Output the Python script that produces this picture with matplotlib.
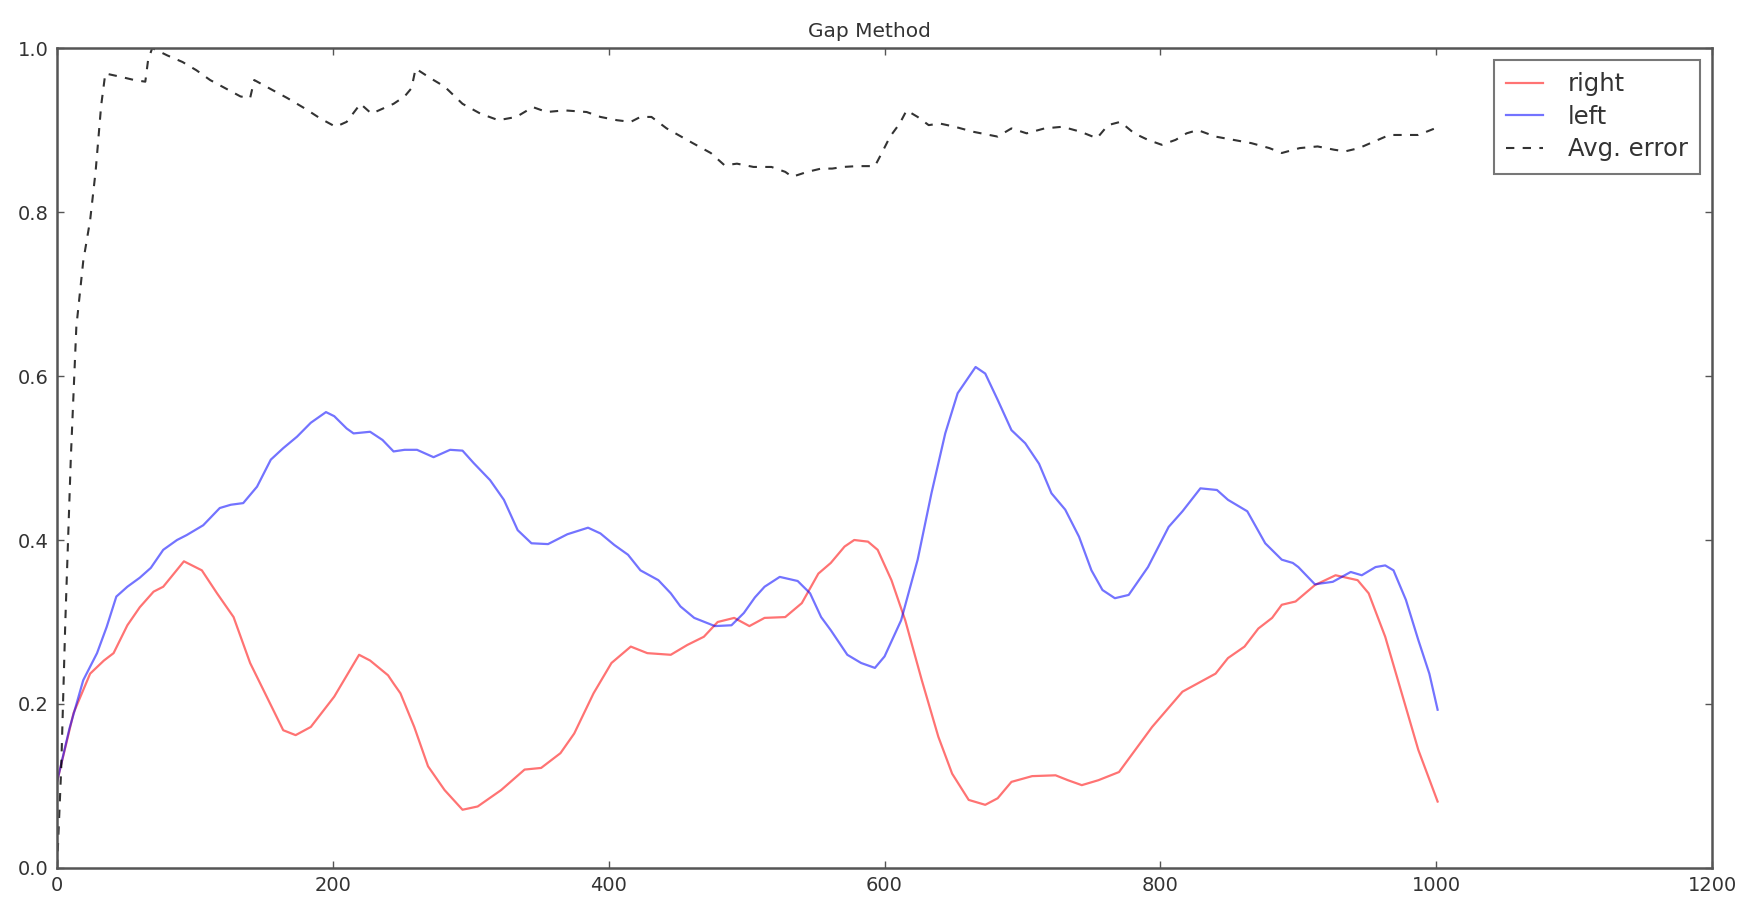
import numpy as np
import matplotlib
matplotlib.use("Agg")
import matplotlib.pyplot as plt

# right-side gap estimate
right_x = [0, 12, 24, 34, 41, 51, 60, 70, 77, 92, 105, 116, 128, 140, 152, 164, 173, 184,
           201, 219, 227, 240, 244, 249, 259, 269, 281, 294, 305, 322, 339, 351, 365, 375,
           389, 402, 416, 428, 445, 457, 469, 479, 491, 502, 513, 528, 540, 552, 561, 571,
           578, 588, 595, 605, 615, 627, 639, 649, 661, 673, 682, 692, 707, 724, 733, 743,
           755, 770, 794, 816, 840, 849, 861, 871, 881, 888, 898, 912, 927, 943, 951, 963,
           975, 987, 1001]
right_y = [0.105, 0.189, 0.237, 0.253, 0.262, 0.296, 0.318, 0.337, 0.343, 0.374, 0.363,
           0.335, 0.306, 0.250, 0.209, 0.168, 0.162, 0.172, 0.209, 0.260, 0.253, 0.235,
           0.225, 0.213, 0.172, 0.124, 0.095, 0.071, 0.075, 0.095, 0.120, 0.122, 0.140,
           0.164, 0.213, 0.250, 0.270, 0.262, 0.260, 0.272, 0.282, 0.300, 0.305, 0.295,
           0.305, 0.306, 0.323, 0.359, 0.372, 0.392, 0.400, 0.398, 0.388, 0.351, 0.302,
           0.229, 0.160, 0.115, 0.083, 0.077, 0.085, 0.105, 0.112, 0.113, 0.107, 0.101,
           0.107, 0.117, 0.172, 0.215, 0.237, 0.256, 0.270, 0.292, 0.305, 0.321, 0.325,
           0.345, 0.357, 0.351, 0.335, 0.282, 0.213, 0.144, 0.081]

# left-side gap estimate
left_x = [0, 9, 19, 29, 36, 43, 51, 60, 68, 77, 87, 94, 106, 118, 126, 135, 145, 155, 164,
          174, 184, 195, 201, 210, 215, 227, 236, 244, 252, 261, 273, 285, 294, 302, 314,
          324, 334, 344, 356, 370, 385, 394, 404, 414, 423, 436, 445, 452, 462, 477, 489,
          498, 506, 513, 524, 537, 546, 554, 561, 573, 583, 593, 600, 612, 624, 634, 644,
          653, 666, 673, 682, 692, 702, 712, 721, 731, 741, 750, 758, 767, 777, 791, 806,
          816, 829, 841, 849, 863, 876, 888, 896, 900, 912, 925, 938, 946, 956, 963, 969,
          978, 987, 995, 1001]
left_y = [0.105, 0.170, 0.229, 0.262, 0.294, 0.331, 0.343, 0.354, 0.366, 0.388, 0.400,
          0.406, 0.418, 0.439, 0.443, 0.445, 0.465, 0.498, 0.512, 0.526, 0.543, 0.556,
          0.551, 0.536, 0.530, 0.532, 0.522, 0.508, 0.510, 0.510, 0.501, 0.510, 0.509,
          0.494, 0.473, 0.449, 0.412, 0.396, 0.395, 0.407, 0.415, 0.408, 0.394, 0.382,
          0.363, 0.351, 0.335, 0.319, 0.305, 0.295, 0.296, 0.311, 0.330, 0.343, 0.355,
          0.350, 0.335, 0.306, 0.290, 0.260, 0.250, 0.244, 0.258, 0.302, 0.376, 0.457,
          0.530, 0.579, 0.611, 0.603, 0.571, 0.534, 0.518, 0.493, 0.457, 0.437, 0.404,
          0.363, 0.339, 0.329, 0.333, 0.367, 0.416, 0.435, 0.463, 0.461, 0.449, 0.435,
          0.396, 0.376, 0.372, 0.367, 0.346, 0.349, 0.361, 0.357, 0.367, 0.369, 0.363,
          0.327, 0.278, 0.237, 0.193]

# running average error
err_x = [0, 3, 6, 10, 14, 19, 24, 28, 30, 32, 35, 46, 56, 64, 66, 69, 80, 91, 101, 111,
         122, 133, 140, 143, 156, 167, 180, 191, 202, 210, 220, 228, 236, 244, 252, 257,
         260, 271, 281, 294, 307, 320, 333, 345, 355, 368, 384, 394, 406, 416, 423, 431,
         442, 461, 474, 484, 493, 505, 518, 528, 533, 544, 554, 562, 570, 580, 593, 598,
         604, 611, 616, 624, 632, 640, 651, 664, 682, 692, 703, 716, 729, 742, 754, 762,
         771, 781, 791, 801, 811, 819, 827, 840, 853, 866, 879, 888, 901, 914, 926, 934,
         944, 955, 966, 976, 987, 999]
err_y = [0.0, 0.12, 0.30, 0.50, 0.66, 0.74, 0.79, 0.85, 0.89, 0.93, 0.969, 0.965, 0.961,
         0.959, 0.985, 1.0, 0.991, 0.983, 0.973, 0.961, 0.951, 0.941, 0.939, 0.961, 0.949,
         0.939, 0.926, 0.914, 0.904, 0.910, 0.932, 0.920, 0.926, 0.932, 0.941, 0.951,
         0.975, 0.963, 0.953, 0.932, 0.920, 0.912, 0.916, 0.928, 0.922, 0.924, 0.922,
         0.916, 0.912, 0.910, 0.916, 0.916, 0.902, 0.884, 0.872, 0.857, 0.859, 0.855,
         0.855, 0.849, 0.843, 0.849, 0.853, 0.853, 0.855, 0.856, 0.856, 0.872, 0.892,
         0.908, 0.924, 0.916, 0.906, 0.908, 0.904, 0.898, 0.892, 0.902, 0.896, 0.902,
         0.904, 0.898, 0.890, 0.906, 0.910, 0.896, 0.888, 0.882, 0.888, 0.896, 0.900,
         0.892, 0.888, 0.884, 0.878, 0.872, 0.878, 0.880, 0.876, 0.874, 0.878, 0.886,
         0.894, 0.894, 0.894, 0.902]

plt.rcParams['font.family'] = ['DejaVu Sans']
plt.rcParams['font.size'] = 14

fig = plt.figure(figsize=(17.44, 9.0), dpi=100)
ax = fig.add_axes([0.0327, 0.0356, 0.949, 0.911])

ax.plot(right_x, right_y, color='r', alpha=0.55, lw=1.6, label='right')
ax.plot(left_x, left_y, color='b', alpha=0.55, lw=1.6, label='left')
ax.plot(err_x, err_y, color='k', alpha=0.8, lw=1.5, dashes=(4, 4), label='Avg. error')

ax.set_xlim(0, 1200)
ax.set_ylim(0, 1.0)
ax.set_xticks(np.arange(0, 1201, 200))
ax.set_yticks(np.arange(0, 1.01, 0.2))
ax.tick_params(direction='in', top=True, right=True, length=5, width=1,
               colors='#555555', labelcolor='#333333', labelsize=14, pad=6)
for s in ax.spines.values():
    s.set_color('#555555')
    s.set_linewidth(1.8)

ax.set_title('Gap Method', fontsize=14.5, color='#333333', pad=8, x=0.491)

leg = ax.legend(loc='upper right', fancybox=False, fontsize=17.5, handlelength=1.55,
                borderpad=0.5, labelspacing=0.35, handletextpad=1.0, borderaxespad=0.5)
leg.get_frame().set_edgecolor('#555555')
leg.get_frame().set_linewidth(1.5)
for t in leg.get_texts():
    t.set_color('#333333')

fig.savefig('out.png', dpi=100)
